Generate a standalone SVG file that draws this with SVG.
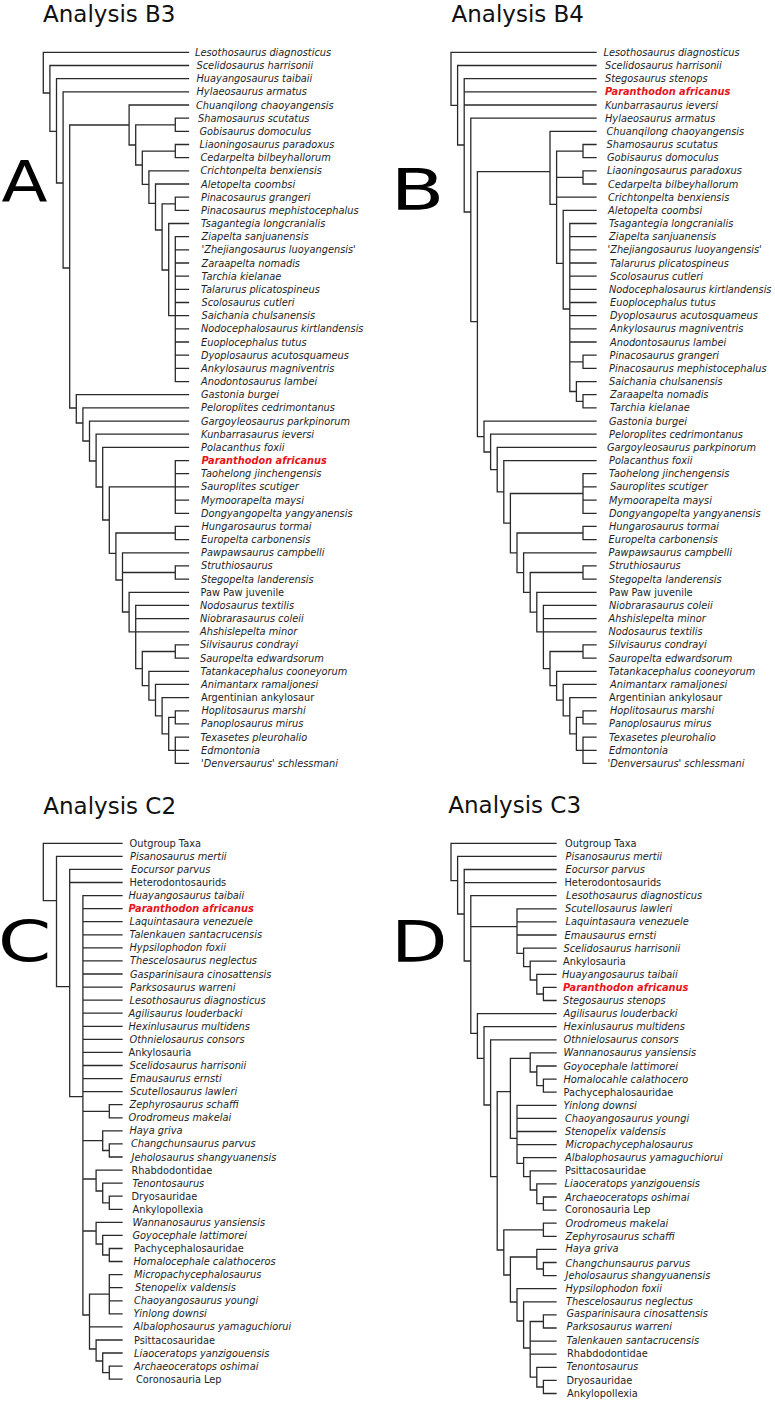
<svg xmlns="http://www.w3.org/2000/svg" width="775" height="1403" viewBox="0 0 775 1403">
<style>
.ln{fill:none;stroke:#2a2a2a;stroke-width:1.3;stroke-linecap:square}
text{font-family:"DejaVu Sans",Verdana,sans-serif;fill:#1e1e1e}
.s,.g,.r{font-size:9.8px}
.s{font-style:italic}
.r{font-style:italic;font-weight:bold;fill:#e8141c}
.ttl{font-size:23px;fill:#111}
.big{font-size:57px;fill:#000}
</style>
<rect width="775" height="1403" fill="#fff"/>
<g id="connectors">
<path id="tree-A" class="ln" d="M188.5,52.3H43.3V93H49.9 M188.5,65.5H49.9V131.3H56.5 M188.5,78.6H56.5V183H63.1 M188.5,91.8H63.1V268H69.7 M129.1,125H69.7V408H76.3 M188.5,105H129.1V145H135.7 M175.3,124.8H135.7V165H142.3 M188.5,118.2H175.3V131.3H188.5 M175.3,151.1H142.3V184.3H148.9 M188.5,144.5H175.3V157.7H188.5 M188.5,170.8H148.9V203.3H155.5 M188.5,184H155.5V230H162.1 M175.3,203.8H162.1V270H168.7 M188.5,197.2H175.3V210.3H188.5 M188.5,223.5H168.7V315.7H175.3 M188.5,236.7H175.3V381.6H188.5 M175.3,249.9H188.5 M175.3,263H188.5 M175.3,276.2H188.5 M175.3,289.4H188.5 M175.3,302.5H188.5 M175.3,315.7H188.5 M175.3,328.9H188.5 M175.3,342H188.5 M175.3,355.2H188.5 M175.3,368.4H188.5 M188.5,394.7H76.3V423H82.9 M188.5,407.9H82.9V441H89.5 M188.5,421.1H89.5V461H96.1 M188.5,434.2H96.1V487H102.7 M188.5,447.4H102.7V520H109.3 M175.3,486.9H109.3V553.3H115.9 M188.5,460.6H175.3V513.3H188.5 M175.3,473.7H188.5 M175.3,486.9H188.5 M175.3,500.1H188.5 M175.3,533H115.9V580H122.5 M188.5,526.4H175.3V539.6H188.5 M188.5,552.8H122.5V612H129.1 M122.5,572.5H175.3 M188.5,565.9H175.3V579.1H188.5 M188.5,592.3H129.1V631.8H135.7 M188.5,605.4H135.7V668.6H142.3 M135.7,618.6H188.5 M135.7,631.8H188.5 M175.3,651.5H142.3V685.7H148.9 M188.5,644.9H175.3V658.1H188.5 M188.5,671.3H148.9V700.1H155.5 M188.5,684.4H155.5V715.8H162.1 M188.5,697.6H162.1V733.9H168.7 M175.3,717.4H168.7V750.3H175.3 M188.5,710.8H175.3V723.9H188.5 M188.5,737.1H175.3V763.4H188.5 M175.3,750.3H188.5"/>
<path id="tree-B" class="ln" d="M596,52.3H451V105.3H457.6 M596,65.5H457.6V145H464.2 M596,78.6H464.2V212H470.8 M464.2,91.8H596 M464.2,105H596 M596,118.2H470.8V321.7H477.4 M550,171.7H477.4V436.6H484 M596,131.3H550V204.3H556.6 M583,151.1H556.6V263.3H563.2 M556.6,177.4H583 M556.6,197.2H596 M596,144.5H583V157.7H596 M596,170.8H583V184H596 M596,210.3H563.2V309H569.8 M596,223.5H569.8V391.5H576.4 M569.8,236.7H596 M569.8,249.9H596 M569.8,263H596 M569.8,276.2H596 M569.8,289.4H596 M569.8,302.5H596 M569.8,315.7H596 M569.8,328.9H596 M569.8,342H596 M569.8,361.8H583 M596,355.2H583V368.4H596 M596,381.6H576.4V401.3H583 M596,394.7H583V407.9H596 M596,421.1H484V452H490.6 M596,434.2H490.6V469.7H497.2 M596,447.4H497.2V491.9H503.8 M596,460.6H503.8V523.2H510.4 M583,493.5H510.4V552.8H517 M596,473.7H583V513.3H596 M583,486.9H596 M583,500.1H596 M583,533H517V572.6H523.6 M596,526.4H583V539.6H596 M596,552.8H523.6V592.3H530.2 M583,572.5H530.2V612.1H536.8 M596,565.9H583V579.1H596 M596,592.3H536.8V631.8H543.4 M596,605.4H543.4V668.6H550 M543.4,618.6H596 M543.4,631.8H596 M583,651.5H550V685.7H556.6 M596,644.9H583V658.1H596 M596,671.3H556.6V700.1H563.2 M596,684.4H563.2V715.8H569.8 M596,697.6H569.8V733.9H576.4 M583,717.4H576.4V750.3H583 M596,710.8H583V723.9H596 M596,737.1H583V763.4H596 M583,750.3H596"/>
<path id="tree-C" class="ln" d="M122,843.3H43.3V900.7H56.5 M122,856.4H56.5V986.7H69.7 M122,869.4H69.7V1096.7H82.9 M69.7,882.5H122 M122,895.6H82.9V1315H89.5 M82.9,908.7H122 M82.9,921.7H122 M82.9,934.8H122 M82.9,947.9H122 M82.9,960.9H122 M82.9,974H122 M82.9,987.1H122 M82.9,1000.1H122 M82.9,1013.2H122 M82.9,1026.3H122 M82.9,1039.4H122 M82.9,1052.4H122 M82.9,1065.5H122 M82.9,1078.6H122 M82.9,1091.6H122 M82.9,1111.3H109.3 M82.9,1140.6H102.7 M82.9,1179H96.1 M82.9,1231H96.1 M122,1104.7H109.3V1117.8H122 M122,1130.8H102.7V1150.5H109.3 M122,1143.9H109.3V1157H122 M122,1170.1H96.1V1191H102.7 M122,1183.1H102.7V1202.8H109.3 M122,1196.2H109.3V1209.3H122 M122,1222.3H96.1V1244H102.7 M122,1235.4H102.7V1255H109.3 M122,1248.5H109.3V1261.5H122 M109.3,1294.2H89.5V1349H96.1 M89.5,1326.9H122 M122,1274.6H109.3V1313.8H122 M109.3,1287.7H122 M109.3,1300.8H122 M122,1340H96.1V1361H102.7 M122,1353H102.7V1372.7H109.3 M122,1366.1H109.3V1379.2H122"/>
<path id="tree-D" class="ln" d="M556,843.3H451V880.7H457.6 M556,856.4H457.6V914H464.2 M556,869.5H464.2V961H470.8 M464.2,882.6H556 M556,895.7H470.8V1033.3H477.4 M470.8,926.7H517 M556,908.8H517V953.3H523.6 M517,921.9H556 M517,935H556 M556,948.1H523.6V966.7H530.2 M556,961.2H530.2V980H536.8 M556,974.3H536.8V994H543.4 M556,987.4H543.4V1000.5H556 M556,1013.6H477.4V1058.3H484 M556,1026.7H484V1105H490.6 M556,1039.8H490.6V1176.7H497.2 M510.4,1091.7H497.2V1250H503.8 M530.2,1058.3H510.4V1138.3H517 M556,1052.9H530.2V1072H536.8 M556,1066H536.8V1085.7H543.4 M556,1079.1H543.4V1092.2H556 M556,1105.3H517V1163.3H523.6 M517,1118.4H556 M517,1131.5H556 M517,1144.6H556 M556,1157.7H523.6V1176.7H530.2 M556,1170.8H530.2V1190H536.8 M556,1183.9H536.8V1203.6H543.4 M556,1197H543.4V1210.1H556 M543.4,1229.8H503.8V1275H510.4 M556,1223.2H543.4V1236.3H556 M536.8,1257H510.4V1302H517 M556,1249.4H536.8V1269H543.4 M556,1262.5H543.4V1275.6H556 M556,1288.7H517V1321H523.6 M556,1301.8H523.6V1348H530.2 M543.4,1321.5H530.2V1377.1H536.8 M530.2,1341.1H556 M530.2,1354.2H556 M556,1314.9H543.4V1328H556 M556,1367.3H536.8V1387H543.4 M556,1380.4H543.4V1393.5H556"/>
</g>
<g id="panel-A">
<g id="A-title"><text class="ttl" x="43" y="22">Analysis B3</text></g>
<g id="A-letter"><text class="big" x="1.5" y="202" textLength="46" lengthAdjust="spacingAndGlyphs">A</text></g>
<g id="A00"><text class="s" x="195" y="55.8">Lesothosaurus diagnosticus</text></g>
<g id="A01"><text class="s" x="196.5" y="69">Scelidosaurus harrisonii</text></g>
<g id="A02"><text class="s" x="196.5" y="82.1">Huayangosaurus taibaii</text></g>
<g id="A03"><text class="s" x="196.5" y="95.3">Hylaeosaurus armatus</text></g>
<g id="A04"><text class="s" x="196" y="108.5">Chuanqilong chaoyangensis</text></g>
<g id="A05"><text class="s" x="198" y="121.7">Shamosaurus scutatus</text></g>
<g id="A06"><text class="s" x="199.5" y="134.8">Gobisaurus domoculus</text></g>
<g id="A07"><text class="s" x="199.5" y="148">Liaoningosaurus paradoxus</text></g>
<g id="A08"><text class="s" x="200.5" y="161.2">Cedarpelta bilbeyhallorum</text></g>
<g id="A09"><text class="s" x="200.5" y="174.3">Crichtonpelta benxiensis</text></g>
<g id="A10"><text class="s" x="201" y="187.5">Aletopelta coombsi</text></g>
<g id="A11"><text class="s" x="201" y="200.7">Pinacosaurus grangeri</text></g>
<g id="A12"><text class="s" x="201" y="213.8">Pinacosaurus mephistocephalus</text></g>
<g id="A13"><text class="s" x="201" y="227">Tsagantegia longcranialis</text></g>
<g id="A14"><text class="s" x="201.5" y="240.2">Ziapelta sanjuanensis</text></g>
<g id="A15"><text class="s" x="201.5" y="253.4">'Zhejiangosaurus luoyangensis'</text></g>
<g id="A16"><text class="s" x="201.5" y="266.5">Zaraapelta nomadis</text></g>
<g id="A17"><text class="s" x="201.5" y="279.7">Tarchia kielanae</text></g>
<g id="A18"><text class="s" x="201" y="292.9">Talarurus plicatospineus</text></g>
<g id="A19"><text class="s" x="201.5" y="306">Scolosaurus cutleri</text></g>
<g id="A20"><text class="s" x="201.5" y="319.2">Saichania chulsanensis</text></g>
<g id="A21"><text class="s" x="201" y="332.4">Nodocephalosaurus kirtlandensis</text></g>
<g id="A22"><text class="s" x="201" y="345.5">Euoplocephalus tutus</text></g>
<g id="A23"><text class="s" x="201" y="358.7">Dyoplosaurus acutosquameus</text></g>
<g id="A24"><text class="s" x="201" y="371.9">Ankylosaurus magniventris</text></g>
<g id="A25"><text class="s" x="201" y="385.1">Anodontosaurus lambei</text></g>
<g id="A26"><text class="s" x="201" y="398.2">Gastonia burgei</text></g>
<g id="A27"><text class="s" x="201" y="411.4">Peloroplites cedrimontanus</text></g>
<g id="A28"><text class="s" x="201" y="424.6">Gargoyleosaurus parkpinorum</text></g>
<g id="A29"><text class="s" x="201" y="437.7">Kunbarrasaurus ieversi</text></g>
<g id="A30"><text class="s" x="201" y="450.9">Polacanthus foxii</text></g>
<g id="A31"><text class="r" x="201.5" y="464.1">Paranthodon africanus</text></g>
<g id="A32"><text class="s" x="201" y="477.2">Taohelong jinchengensis</text></g>
<g id="A33"><text class="s" x="201" y="490.4">Sauroplites scutiger</text></g>
<g id="A34"><text class="s" x="201" y="503.6">Mymoorapelta maysi</text></g>
<g id="A35"><text class="s" x="201" y="516.8">Dongyangopelta yangyanensis</text></g>
<g id="A36"><text class="s" x="201.5" y="529.9">Hungarosaurus tormai</text></g>
<g id="A37"><text class="s" x="201" y="543.1">Europelta carbonensis</text></g>
<g id="A38"><text class="s" x="201" y="556.3">Pawpawsaurus campbelli</text></g>
<g id="A39"><text class="s" x="201" y="569.4">Struthiosaurus</text></g>
<g id="A40"><text class="s" x="201" y="582.6">Stegopelta landerensis</text></g>
<g id="A41"><text class="g" x="200.5" y="595.8">Paw Paw juvenile</text></g>
<g id="A42"><text class="s" x="200" y="608.9">Nodosaurus textilis</text></g>
<g id="A43"><text class="s" x="200" y="622.1">Niobrarasaurus coleii</text></g>
<g id="A44"><text class="s" x="200" y="635.3">Ahshislepelta minor</text></g>
<g id="A45"><text class="s" x="200" y="648.4">Silvisaurus condrayi</text></g>
<g id="A46"><text class="s" x="200" y="661.6">Sauropelta edwardsorum</text></g>
<g id="A47"><text class="s" x="200.5" y="674.8">Tatankacephalus cooneyorum</text></g>
<g id="A48"><text class="s" x="201" y="687.9">Animantarx ramaljonesi</text></g>
<g id="A49"><text class="g" x="201" y="701.1">Argentinian ankylosaur</text></g>
<g id="A50"><text class="s" x="201.5" y="714.3">Hoplitosaurus marshi</text></g>
<g id="A51"><text class="s" x="201" y="727.4">Panoplosaurus mirus</text></g>
<g id="A52"><text class="s" x="200.5" y="740.6">Texasetes pleurohalio</text></g>
<g id="A53"><text class="s" x="201" y="753.8">Edmontonia</text></g>
<g id="A54"><text class="s" x="201" y="766.9">'Denversaurus' schlessmani</text></g>
</g>
<g id="panel-B">
<g id="B-title"><text class="ttl" x="451.5" y="22">Analysis B4</text></g>
<g id="B-letter"><text class="big" x="390.6" y="210" textLength="54" lengthAdjust="spacingAndGlyphs">B</text></g>
<g id="B00"><text class="s" x="603.5" y="55.8">Lesothosaurus diagnosticus</text></g>
<g id="B01"><text class="s" x="605" y="69">Scelidosaurus harrisonii</text></g>
<g id="B02"><text class="s" x="605" y="82.1">Stegosaurus stenops</text></g>
<g id="B03"><text class="r" x="605" y="95.3">Paranthodon africanus</text></g>
<g id="B04"><text class="s" x="605" y="108.5">Kunbarrasaurus ieversi</text></g>
<g id="B05"><text class="s" x="605" y="121.7">Hylaeosaurus armatus</text></g>
<g id="B06"><text class="s" x="606.5" y="134.8">Chuanqilong chaoyangensis</text></g>
<g id="B07"><text class="s" x="606.5" y="148">Shamosaurus scutatus</text></g>
<g id="B08"><text class="s" x="607" y="161.2">Gobisaurus domoculus</text></g>
<g id="B09"><text class="s" x="607" y="174.3">Liaoningosaurus paradoxus</text></g>
<g id="B10"><text class="s" x="608" y="187.5">Cedarpelta bilbeyhallorum</text></g>
<g id="B11"><text class="s" x="608" y="200.7">Crichtonpelta benxiensis</text></g>
<g id="B12"><text class="s" x="608" y="213.8">Aletopelta coombsi</text></g>
<g id="B13"><text class="s" x="609" y="227">Tsagantegia longcranialis</text></g>
<g id="B14"><text class="s" x="609" y="240.2">Ziapelta sanjuanensis</text></g>
<g id="B15"><text class="s" x="607.5" y="253.4">'Zhejiangosaurus luoyangensis'</text></g>
<g id="B16"><text class="s" x="610" y="266.5">Talarurus plicatospineus</text></g>
<g id="B17"><text class="s" x="610" y="279.7">Scolosaurus cutleri</text></g>
<g id="B18"><text class="s" x="609" y="292.9">Nodocephalosaurus kirtlandensis</text></g>
<g id="B19"><text class="s" x="610" y="306">Euoplocephalus tutus</text></g>
<g id="B20"><text class="s" x="610" y="319.2">Dyoplosaurus acutosquameus</text></g>
<g id="B21"><text class="s" x="610" y="332.4">Ankylosaurus magniventris</text></g>
<g id="B22"><text class="s" x="610" y="345.5">Anodontosaurus lambei</text></g>
<g id="B23"><text class="s" x="609.5" y="358.7">Pinacosaurus grangeri</text></g>
<g id="B24"><text class="s" x="609" y="371.9">Pinacosaurus mephistocephalus</text></g>
<g id="B25"><text class="s" x="609" y="385.1">Saichania chulsanensis</text></g>
<g id="B26"><text class="s" x="610" y="398.2">Zaraapelta nomadis</text></g>
<g id="B27"><text class="s" x="610" y="411.4">Tarchia kielanae</text></g>
<g id="B28"><text class="s" x="609" y="424.6">Gastonia burgei</text></g>
<g id="B29"><text class="s" x="609" y="437.7">Peloroplites cedrimontanus</text></g>
<g id="B30"><text class="s" x="607" y="450.9">Gargoyleosaurus parkpinorum</text></g>
<g id="B31"><text class="s" x="609" y="464.1">Polacanthus foxii</text></g>
<g id="B32"><text class="s" x="609" y="477.2">Taohelong jinchengensis</text></g>
<g id="B33"><text class="s" x="610" y="490.4">Sauroplites scutiger</text></g>
<g id="B34"><text class="s" x="609" y="503.6">Mymoorapelta maysi</text></g>
<g id="B35"><text class="s" x="609" y="516.8">Dongyangopelta yangyanensis</text></g>
<g id="B36"><text class="s" x="609" y="529.9">Hungarosaurus tormai</text></g>
<g id="B37"><text class="s" x="608.5" y="543.1">Europelta carbonensis</text></g>
<g id="B38"><text class="s" x="608.5" y="556.3">Pawpawsaurus campbelli</text></g>
<g id="B39"><text class="s" x="609" y="569.4">Struthiosaurus</text></g>
<g id="B40"><text class="s" x="609" y="582.6">Stegopelta landerensis</text></g>
<g id="B41"><text class="g" x="609" y="595.8">Paw Paw juvenile</text></g>
<g id="B42"><text class="s" x="609" y="608.9">Niobrarasaurus coleii</text></g>
<g id="B43"><text class="s" x="608.5" y="622.1">Ahshislepelta minor</text></g>
<g id="B44"><text class="s" x="608.5" y="635.3">Nodosaurus textilis</text></g>
<g id="B45"><text class="s" x="608.5" y="648.4">Silvisaurus condrayi</text></g>
<g id="B46"><text class="s" x="608.5" y="661.6">Sauropelta edwardsorum</text></g>
<g id="B47"><text class="s" x="608.5" y="674.8">Tatankacephalus cooneyorum</text></g>
<g id="B48"><text class="s" x="610" y="687.9">Animantarx ramaljonesi</text></g>
<g id="B49"><text class="g" x="609" y="701.1">Argentinian ankylosaur</text></g>
<g id="B50"><text class="s" x="610" y="714.3">Hoplitosaurus marshi</text></g>
<g id="B51"><text class="s" x="609" y="727.4">Panoplosaurus mirus</text></g>
<g id="B52"><text class="s" x="609" y="740.6">Texasetes pleurohalio</text></g>
<g id="B53"><text class="s" x="609" y="753.8">Edmontonia</text></g>
<g id="B54"><text class="s" x="607.5" y="766.9">'Denversaurus' schlessmani</text></g>
</g>
<g id="panel-C">
<g id="C-title"><text class="ttl" x="43.3" y="814">Analysis C2</text></g>
<g id="C-letter"><text class="big" x="-2.3" y="962" textLength="53.7" lengthAdjust="spacingAndGlyphs">C</text></g>
<g id="C00"><text class="g" x="129.5" y="846.8">Outgroup Taxa</text></g>
<g id="C01"><text class="s" x="130" y="859.9">Pisanosaurus mertii</text></g>
<g id="C02"><text class="s" x="131" y="872.9">Eocursor parvus</text></g>
<g id="C03"><text class="g" x="129.5" y="886">Heterodontosaurids</text></g>
<g id="C04"><text class="s" x="128.5" y="899.1">Huayangosaurus taibaii</text></g>
<g id="C05"><text class="r" x="128.5" y="912.2">Paranthodon africanus</text></g>
<g id="C06"><text class="s" x="129.5" y="925.2">Laquintasaura venezuele</text></g>
<g id="C07"><text class="s" x="129.5" y="938.3">Talenkauen santacrucensis</text></g>
<g id="C08"><text class="s" x="129.5" y="951.4">Hypsilophodon foxii</text></g>
<g id="C09"><text class="s" x="130" y="964.4">Thescelosaurus neglectus</text></g>
<g id="C10"><text class="s" x="130" y="977.5">Gasparinisaura cinosattensis</text></g>
<g id="C11"><text class="s" x="130" y="990.6">Parksosaurus warreni</text></g>
<g id="C12"><text class="s" x="129.5" y="1003.6">Lesothosaurus diagnosticus</text></g>
<g id="C13"><text class="s" x="128.5" y="1016.7">Agilisaurus louderbacki</text></g>
<g id="C14"><text class="s" x="128.5" y="1029.8">Hexinlusaurus multidens</text></g>
<g id="C15"><text class="s" x="129.5" y="1042.9">Othnielosaurus consors</text></g>
<g id="C16"><text class="g" x="128.5" y="1055.9">Ankylosauria</text></g>
<g id="C17"><text class="s" x="129.5" y="1069">Scelidosaurus harrisonii</text></g>
<g id="C18"><text class="s" x="130" y="1082.1">Emausaurus ernsti</text></g>
<g id="C19"><text class="s" x="130" y="1095.1">Scutellosaurus lawleri</text></g>
<g id="C20"><text class="s" x="129.5" y="1108.2">Zephyrosaurus schaffi</text></g>
<g id="C21"><text class="s" x="128.5" y="1121.3">Orodromeus makelai</text></g>
<g id="C22"><text class="s" x="129.5" y="1134.3">Haya griva</text></g>
<g id="C23"><text class="s" x="131" y="1147.4">Changchunsaurus parvus</text></g>
<g id="C24"><text class="s" x="131.5" y="1160.5">Jeholosaurus shangyuanensis</text></g>
<g id="C25"><text class="g" x="131.5" y="1173.6">Rhabdodontidae</text></g>
<g id="C26"><text class="s" x="132.5" y="1186.6">Tenontosaurus</text></g>
<g id="C27"><text class="g" x="131.5" y="1199.7">Dryosauridae</text></g>
<g id="C28"><text class="g" x="132.5" y="1212.8">Ankylopollexia</text></g>
<g id="C29"><text class="s" x="132.5" y="1225.8">Wannanosaurus yansiensis</text></g>
<g id="C30"><text class="s" x="132.5" y="1238.9">Goyocephale lattimorei</text></g>
<g id="C31"><text class="g" x="134" y="1252">Pachycephalosauridae</text></g>
<g id="C32"><text class="s" x="133.5" y="1265">Homalocephale calathoceros</text></g>
<g id="C33"><text class="s" x="134" y="1278.1">Micropachycephalosaurus</text></g>
<g id="C34"><text class="s" x="135" y="1291.2">Stenopelix valdensis</text></g>
<g id="C35"><text class="s" x="134" y="1304.3">Chaoyangosaurus youngi</text></g>
<g id="C36"><text class="s" x="133.5" y="1317.3">Yinlong downsi</text></g>
<g id="C37"><text class="s" x="133.5" y="1330.4">Albalophosaurus yamaguchiorui</text></g>
<g id="C38"><text class="g" x="134" y="1343.5">Psittacosauridae</text></g>
<g id="C39"><text class="s" x="134" y="1356.5">Liaoceratops yanzigouensis</text></g>
<g id="C40"><text class="s" x="134" y="1369.6">Archaeoceratops oshimai</text></g>
<g id="C41"><text class="g" x="136" y="1382.7">Coronosauria Lep</text></g>
</g>
<g id="panel-D">
<g id="D-title"><text class="ttl" x="448.3" y="813">Analysis C3</text></g>
<g id="D-letter"><text class="big" x="391.1" y="962" textLength="56.6" lengthAdjust="spacingAndGlyphs">D</text></g>
<g id="D00"><text class="g" x="565" y="846.8">Outgroup Taxa</text></g>
<g id="D01"><text class="s" x="565.5" y="859.9">Pisanosaurus mertii</text></g>
<g id="D02"><text class="s" x="565.5" y="873">Eocursor parvus</text></g>
<g id="D03"><text class="g" x="564.5" y="886.1">Heterodontosaurids</text></g>
<g id="D04"><text class="s" x="566" y="899.2">Lesothosaurus diagnosticus</text></g>
<g id="D05"><text class="s" x="565" y="912.3">Scutellosaurus lawleri</text></g>
<g id="D06"><text class="s" x="565.5" y="925.4">Laquintasaura venezuele</text></g>
<g id="D07"><text class="s" x="564.5" y="938.5">Emausaurus ernsti</text></g>
<g id="D08"><text class="s" x="563.5" y="951.6">Scelidosaurus harrisonii</text></g>
<g id="D09"><text class="g" x="563" y="964.7">Ankylosauria</text></g>
<g id="D10"><text class="s" x="562" y="977.8">Huayangosaurus taibaii</text></g>
<g id="D11"><text class="r" x="563" y="990.9">Paranthodon africanus</text></g>
<g id="D12"><text class="s" x="563" y="1004">Stegosaurus stenops</text></g>
<g id="D13"><text class="s" x="563.5" y="1017.1">Agilisaurus louderbacki</text></g>
<g id="D14"><text class="s" x="563.5" y="1030.2">Hexinlusaurus multidens</text></g>
<g id="D15"><text class="s" x="563.5" y="1043.3">Othnielosaurus consors</text></g>
<g id="D16"><text class="s" x="563.5" y="1056.4">Wannanosaurus yansiensis</text></g>
<g id="D17"><text class="s" x="563.5" y="1069.5">Goyocephale lattimorei</text></g>
<g id="D18"><text class="s" x="563.5" y="1082.6">Homalocahle calathocero</text></g>
<g id="D19"><text class="g" x="563.5" y="1095.7">Pachycephalosauridae</text></g>
<g id="D20"><text class="s" x="563.5" y="1108.8">Yinlong downsi</text></g>
<g id="D21"><text class="s" x="565" y="1121.9">Chaoyangosaurus youngi</text></g>
<g id="D22"><text class="s" x="565" y="1135">Stenopelix valdensis</text></g>
<g id="D23"><text class="s" x="565.5" y="1148.1">Micropachycephalosaurus</text></g>
<g id="D24"><text class="s" x="565" y="1161.2">Albalophosaurus yamaguchiorui</text></g>
<g id="D25"><text class="g" x="565" y="1174.3">Psittacosauridae</text></g>
<g id="D26"><text class="s" x="564.5" y="1187.4">Liaoceratops yanzigouensis</text></g>
<g id="D27"><text class="s" x="565" y="1200.5">Archaeoceratops oshimai</text></g>
<g id="D28"><text class="g" x="565" y="1212.5">Coronosauria Lep</text></g>
<g id="D29"><text class="s" x="565.5" y="1226.5">Orodromeus makelai</text></g>
<g id="D30"><text class="s" x="565.5" y="1239.8">Zephyrosaurus schaffi</text></g>
<g id="D31"><text class="s" x="565.5" y="1252.4">Haya griva</text></g>
<g id="D32"><text class="s" x="565.5" y="1266.8">Changchunsaurus parvus</text></g>
<g id="D33"><text class="s" x="565.5" y="1278.6">Jeholosaurus shangyuanensis</text></g>
<g id="D34"><text class="s" x="565.5" y="1292.2">Hypsilophodon foxii</text></g>
<g id="D35"><text class="s" x="566" y="1305.3">Thescelosaurus neglectus</text></g>
<g id="D36"><text class="s" x="566.5" y="1317.4">Gasparinisaura cinosattensis</text></g>
<g id="D37"><text class="s" x="566.5" y="1330">Parksosaurus warreni</text></g>
<g id="D38"><text class="s" x="566.5" y="1344">Talenkauen santacrucensis</text></g>
<g id="D39"><text class="g" x="567" y="1357.3">Rhabdodontidae</text></g>
<g id="D40"><text class="s" x="566.5" y="1370">Tenontosaurus</text></g>
<g id="D41"><text class="g" x="566.5" y="1384">Dryosauridae</text></g>
<g id="D42"><text class="g" x="567" y="1397.3">Ankylopollexia</text></g>
</g>
</svg>
